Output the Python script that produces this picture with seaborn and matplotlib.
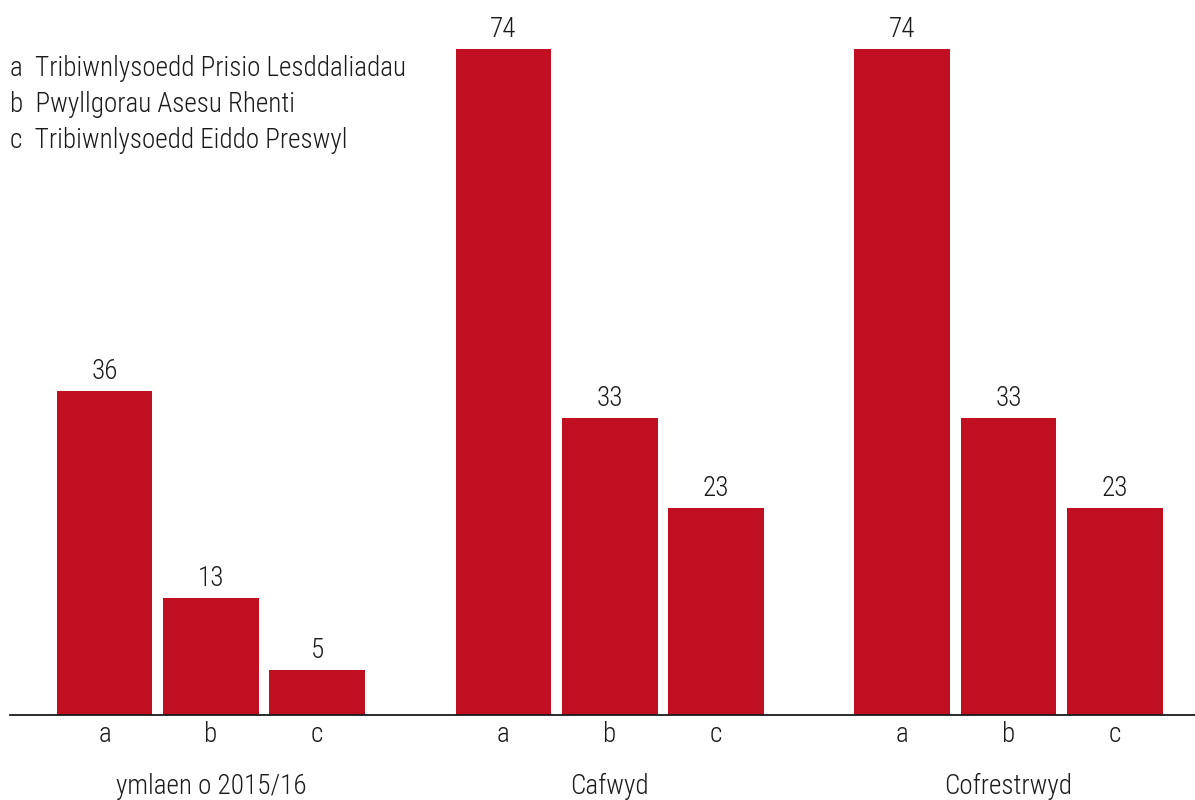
import pandas as pd
import matplotlib
matplotlib.use('Agg')
import matplotlib.pyplot as plt
import seaborn as sns

# data
groups = ['ymlaen o 2015/16', 'Cafwyd', 'Cofrestrwyd']
items = ['a', 'b', 'c']
item_names = ['Tribiwnlysoedd Prisio Lesddaliadau', 'Pwyllgorau Asesu Rhenti',
              'Tribiwnlysoedd Eiddo Preswyl']
values_a = [36, 74, 74]
values_b = [13, 33, 33]
values_c = [5, 23, 23]

df = pd.DataFrame({
    'group': groups * 3,
    'item': ['a'] * 3 + ['b'] * 3 + ['c'] * 3,
    'value': values_a + values_b + values_c,
})

sns.set_style('white')
plt.rcParams['font.family'] = ['Roboto Condensed', 'Archivo Narrow', 'DejaVu Sans']
plt.rcParams['font.weight'] = 'light'

red = '#C10F22'
txt = '#1a1a1a'
fs = 19.5
fig = plt.figure(figsize=(11.95, 8), dpi=100)
ax = fig.add_axes([10 / 1195, 85 / 800, 1185 / 1195, 715 / 800])

sns.barplot(data=df, x='group', y='value', hue='item', order=groups, hue_order=items,
            palette=[red] * 3, width=0.8, gap=0.1, saturation=1, legend=False,
            linewidth=0, ax=ax)

ax.set_xlim(-0.504, 2.468)
ax.set_ylim(0, 79.4)

for cont in ax.containers:
    ax.bar_label(cont, padding=4, fontsize=fs, color=txt)

# a/b/c tick labels under each bar
centers, labels = [], []
for lab, cont in zip(items, ax.containers):
    for p in cont.patches:
        centers.append(p.get_x() + p.get_width() / 2)
        labels.append(lab)
ax.set_xticks(centers)
ax.set_xticklabels(labels, fontsize=fs, color=txt)
ax.tick_params(axis='x', length=0, pad=4)
ax.set_yticks([])
ax.set_xlabel('')
ax.set_ylabel('')

for i, g in enumerate(groups):
    ax.text(i, -0.1, g, transform=ax.get_xaxis_transform(), ha='center', va='center',
            fontsize=fs, color=txt, clip_on=False)

for s in ['top', 'right', 'left']:
    ax.spines[s].set_visible(False)
ax.spines['bottom'].set_color(txt)
ax.spines['bottom'].set_linewidth(1.3)

for i, (lab, name) in enumerate(zip(items, item_names)):
    fig.text(10 / 1195, 1 - (68 + i * 36.5) / 800, lab + '  ' + name, ha='left', va='center',
             fontsize=fs, color=txt)

fig.savefig('out.png', dpi=100)
